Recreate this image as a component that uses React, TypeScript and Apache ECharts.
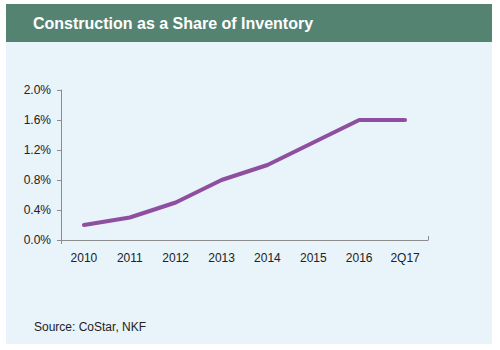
import React, { useEffect, useRef } from "react";
import * as echarts from "echarts";

const categories = ["2010", "2011", "2012", "2013", "2014", "2015", "2016", "2Q17"];
const shareValues = [0.2, 0.3, 0.5, 0.8, 1.0, 1.3, 1.6, 1.6];
const titleText = "Construction as a Share of Inventory";
const sourceText = "Source: CoStar, NKF";

export default function App() {
  const ref = useRef<HTMLDivElement>(null);
  useEffect(() => {
    if (!ref.current) return;
    const chart = echarts.init(ref.current, null, { renderer: "svg" });
    chart.setOption({
      animation: false,
      backgroundColor: "#ffffff",
      graphic: [
        { type: "rect", z: -10, shape: { x: 6, y: 4, width: 486, height: 340 }, style: { fill: "#E8F3FA" } },
        { type: "rect", z: -9, shape: { x: 6, y: 4, width: 486, height: 38 }, style: { fill: "#558372" } },
        {
          type: "text", x: 33, y: 23,
          style: { text: titleText, fill: "#ffffff", font: "bold 16px 'Liberation Sans', Arial, sans-serif", textVerticalAlign: "middle" },
        },
        {
          type: "text", x: 34, y: 327,
          style: { text: sourceText, fill: "#222222", font: "12px 'Liberation Sans', Arial, sans-serif", textVerticalAlign: "middle" },
        },
        { type: "line", shape: { x1: 428.5, y1: 236, x2: 428.5, y2: 240 }, style: { stroke: "#8c8c8c", lineWidth: 1 } },
        { type: "line", shape: { x1: 61.5, y1: 240, x2: 61.5, y2: 244 }, style: { stroke: "#8c8c8c", lineWidth: 1 } },
      ],
      grid: { left: 61, right: 72, top: 90, bottom: 110, containLabel: false },
      xAxis: {
        type: "category",
        data: categories,
        boundaryGap: true,
        axisLine: { lineStyle: { color: "#8c8c8c", width: 1 } },
        axisTick: { show: false },
        axisLabel: { color: "#222222", fontSize: 12, fontFamily: "'Liberation Sans', Arial, sans-serif", margin: 12 },
      },
      yAxis: {
        type: "value",
        min: 0,
        max: 2.0,
        interval: 0.4,
        axisLine: { show: true, lineStyle: { color: "#8c8c8c", width: 1 } },
        axisTick: { show: true, length: 4, lineStyle: { color: "#8c8c8c" } },
        splitLine: { show: false },
        axisLabel: {
          color: "#222222", fontSize: 12, fontFamily: "'Liberation Sans', Arial, sans-serif", margin: 10,
          formatter: (v: number) => v.toFixed(1) + "%",
        },
      },
      series: [
        {
          type: "line",
          data: shareValues,
          symbol: "none",
          lineStyle: { color: "#8E4FA0", width: 4, cap: "round", join: "round" },
        },
      ],
    });
    return () => chart.dispose();
  }, []);
  return <div ref={ref} style={{ position: "fixed", left: 0, top: 0, width: 500, height: 350 }} />;
}
